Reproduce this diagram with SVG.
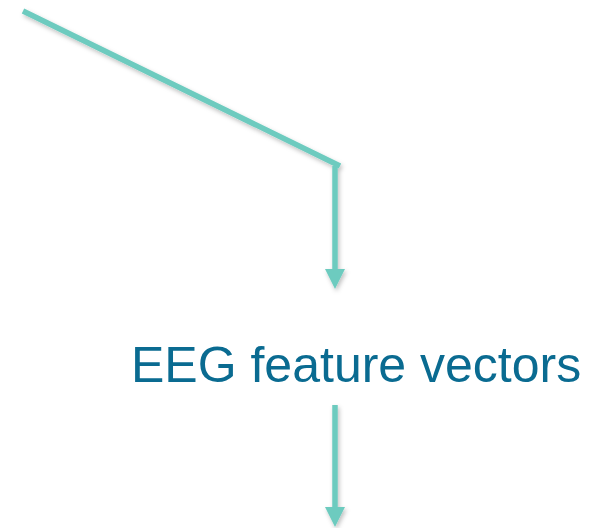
<svg xmlns="http://www.w3.org/2000/svg" width="593" height="528" viewBox="0 0 593 528">
<defs>
<style>
.conn{fill:none;stroke:#6dcbbf;stroke-width:5.5}
.lbl{font-family:"Liberation Sans",Arial,sans-serif;font-size:50px;fill:#0a6b91}
</style>
<filter id="sh" filterUnits="userSpaceOnUse" x="0" y="0" width="593" height="528">
<feDropShadow dx="1.5" dy="2.5" stdDeviation="2" flood-color="#000" flood-opacity="0.25"/>
</filter>
<marker id="ah" markerUnits="userSpaceOnUse" markerWidth="20" markerHeight="20" viewBox="0 0 18 18" refX="0" refY="9" orient="auto">
<path d="M0,0 L18,9 L0,18 Z" fill="#6dcbbf"/>
</marker>
</defs>
<rect width="593" height="528" fill="#fff"/>
<g id="connectors" filter="url(#sh)">
<path class="conn" d="M23,11 L340,166"/>
<path class="conn" d="M335,166 L335,269" marker-end="url(#ah)"/>
<path class="conn" d="M335,405 L335,507" marker-end="url(#ah)"/>
</g>
<g id="node-eeg">
<text class="lbl" x="131" y="382">EEG feature vectors</text>
</g>
</svg>
